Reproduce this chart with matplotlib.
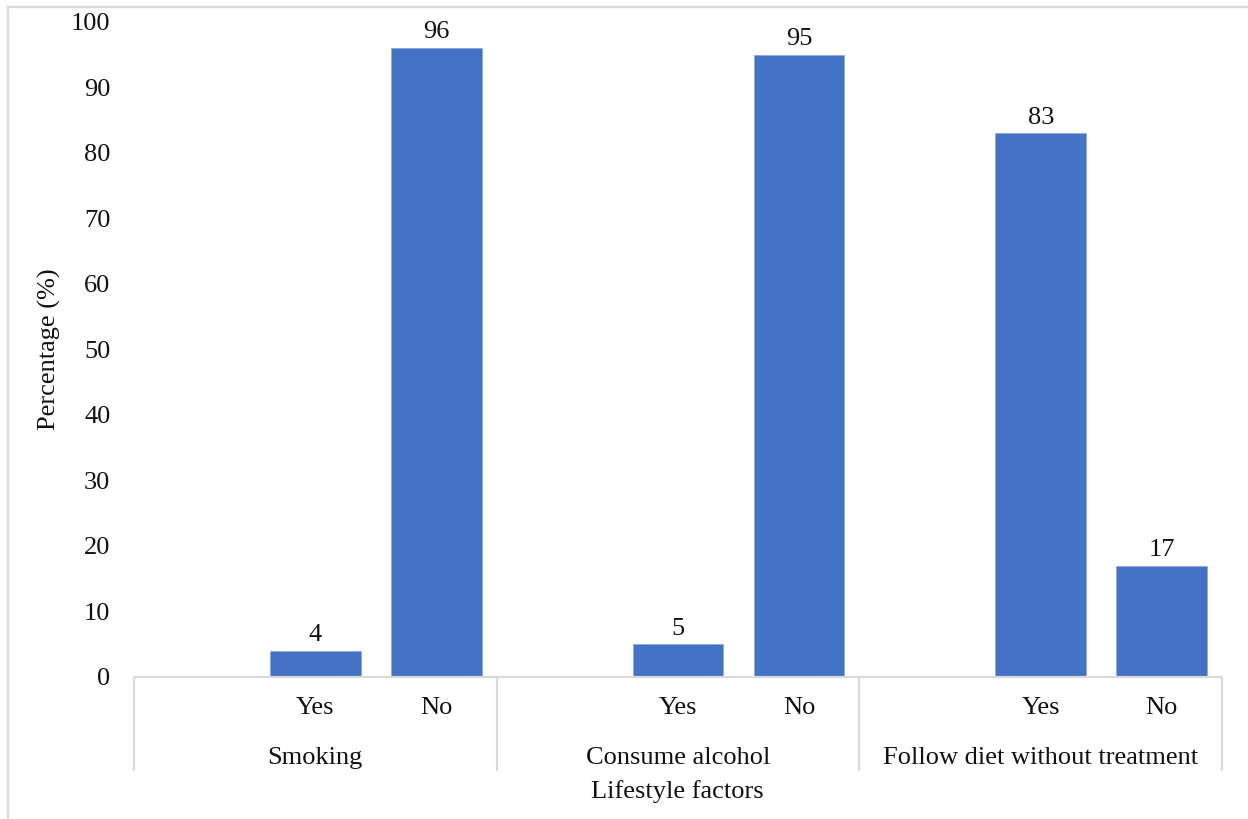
import matplotlib
matplotlib.use("Agg")
import matplotlib.pyplot as plt
from matplotlib.lines import Line2D

plt.rcParams["font.family"] = ["Liberation Serif", "DejaVu Serif"]

groups = ["Smoking", "Consume alcohol", "Follow diet without treatment"]
answers = ["Yes", "No"]
yes_pct = [4, 5, 83]
no_pct = [96, 95, 17]
y_ticks = [0, 10, 20, 30, 40, 50, 60, 70, 80, 90, 100]

BAR_COLOR = "#4472C4"
LINE_GRAY = "#D9D9D9"
TEXT = "#111111"
FS = 19

fig = plt.figure(figsize=(12.48, 8.19), dpi=100)
ax = fig.add_axes([0.1074, 0.1734, 0.8718, 0.7998])

# each group takes three category slots: a blank one, then Yes and No
slots_per_group = 3
for g, (yv, nv) in enumerate(zip(yes_pct, no_pct)):
    base = g * slots_per_group
    for k, val in enumerate([yv, nv]):
        x = base + 1 + k
        ax.bar(x, val, width=0.75, color=BAR_COLOR, edgecolor="#8FAADC", linewidth=0.6)
        ax.annotate(f"{val}", (x, val), xytext=(0, 7), textcoords="offset points",
                    ha="center", va="baseline", fontsize=FS, color=TEXT)
        ax.annotate(answers[k], (x, 0), xytext=(0, -22.5), textcoords="offset points",
                    ha="center", va="center", fontsize=FS, color=TEXT,
                    annotation_clip=False)
    ax.annotate(groups[g], (base + 1, 0), xytext=(0, -58), textcoords="offset points",
                ha="center", va="center", fontsize=FS, color=TEXT,
                annotation_clip=False)

n_slots = len(groups) * slots_per_group
ax.set_xlim(-0.5, n_slots - 0.5)
ax.set_ylim(0, 100)
ax.set_yticks(y_ticks)
ax.tick_params(axis="y", length=0, pad=17, labelsize=FS, labelcolor=TEXT)
ax.set_xticks([])
for s in ax.spines.values():
    s.set_visible(False)

# category axis line and group separators
ax.plot([-0.5, n_slots - 0.5], [0, 0], color=LINE_GRAY, lw=1.6, clip_on=False,
        solid_capstyle="butt", zorder=3)
for g in range(len(groups) + 1):
    xs = g * slots_per_group - 0.5
    ax.plot([xs, xs], [0, -14.4], color=LINE_GRAY, lw=1.6, clip_on=False,
            solid_capstyle="butt")

fig.text(49 / 1248, 0.574, "Percentage (%)", rotation=90, ha="center", va="center",
         fontsize=FS, color=TEXT)
fig.text(0.543, 0.033, "Lifestyle factors", ha="center", va="center", fontsize=FS, color=TEXT)

# chart area border (top and left edges)
fig.add_artist(Line2D([0.0064, 0.0064], [0.0, 0.9915], transform=fig.transFigure,
                      color=LINE_GRAY, lw=1.6))
fig.add_artist(Line2D([0.0064, 1.0], [0.9915, 0.9915], transform=fig.transFigure,
                      color=LINE_GRAY, lw=1.6))

fig.savefig("out.png", dpi=100, facecolor="white")
